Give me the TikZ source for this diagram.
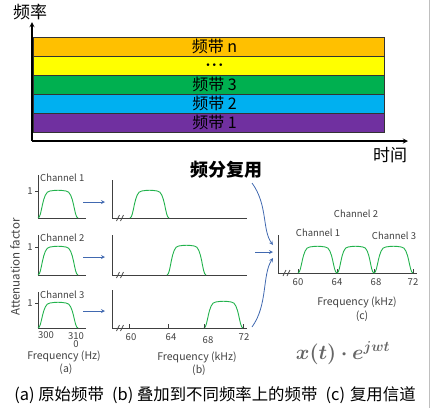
\documentclass[tikz,border=0pt]{standalone}
\usepackage{fontspec}
\setmainfont{Noto Sans CJK SC}
\usepackage{amsmath, bm, xcolor}
\usetikzlibrary{arrows.meta}
\tikzset{>=stealth}

\definecolor{bandn}{HTML}{FFC000}
\definecolor{banddots}{HTML}{FFFF00}
\definecolor{bandthree}{HTML}{00B050}
\definecolor{bandtwo}{HTML}{00B0F0}
\definecolor{bandone}{HTML}{7030A0}
\definecolor{curvegreen}{HTML}{22B24C}
\definecolor{muxblue}{HTML}{4169B0}

% one channel spectrum: x0, x1, base, top
\newcommand{\bump}[4]{%
\pgfmathsetmacro{\bumpw}{#2-#1}
\draw[chan] (#1,#3) .. controls ({#1+0.1*\bumpw},#3) and ({#1+0.1*\bumpw},#4) .. ({#1+0.3*\bumpw},#4)
  .. controls ({#1+0.45*\bumpw},{#4-1}) and ({#1+0.55*\bumpw},{#4-1}) .. ({#1+0.7*\bumpw},#4)
  .. controls ({#1+0.9*\bumpw},#4) and ({#1+0.9*\bumpw},#3) .. (#2,#3);}

\tikzset{
band/.style={draw=black!80, minimum width=351pt, minimum height=19pt, inner sep=0pt},
chan/.style={draw=curvegreen, line width=0.9pt},
ax/.style={draw=black!75, line width=0.8pt},
lbl/.style={font=\fontsize{9.5}{10}\selectfont, text=black!75, inner sep=0pt},
big/.style={font=\fontsize{17}{17}\selectfont, inner sep=0pt},
mux/.style={->, draw=muxblue, line width=0.8pt},
brk/.style={draw=black!70, line width=0.7pt}
}

\begin{document}
\begin{tikzpicture}[x=1pt, y=-1pt]
\useasboundingbox (0,0) rectangle (431,408);
\draw[black!25] (429,0) -- (429,408);

% time / frequency bands
\foreach \yc/\col/\txt/\nm in {46.5/bandn/频带 n/bn, 65.5/banddots/$\bm{\cdot\!\cdot\!\cdot}$/bd, 84.5/bandthree/频带 3/bthree, 103.5/bandtwo/频带 2/btwo, 122.5/bandone/频带 1/bone}
\node[band, fill=\col, label={[inner sep=0pt, font=\fontsize{16}{16}\selectfont, xshift=6pt]center:\txt}] (\nm) at (208.5,\yc) {};
\draw[->, line width=1.3pt] (32,141) -- (32,22);
\draw[->, line width=1.3pt] (32,141) -- (408,141);
\node[big] (freq) at (30,12) {频率};
\node[big] (time) at (390,155) {时间};
\node[big, font=\fontsize{18}{18}\bfseries] (fdm) at (226,170) {频分复用};

% (a) original bands
\node[lbl, font=\fontsize{11.5}{12}\selectfont, rotate=90] (atten) at (15,267) {Attenuation factor};
\foreach \yb/\yt/\yone/\n in {218/175/191/1, 275/235/247/2, 328/292/303/3} {
\draw[ax] (38,\yt) -- (38,\yb) -- (86,\yb);
\draw[ax] (35,\yone) -- (38,\yone);
\node[lbl] (one\n) at (30,\yone) {1};
\node[lbl, anchor=west] (cha\n) at (40,\yt+3) {Channel \n};
\bump{38}{78}{\yb}{\yone}
}
\node[lbl] (hza) at (46,335) {300};
\node[lbl, align=center] (hzb) at (76,340) {310\\[-2pt]0};
\node[lbl, font=\fontsize{10.5}{11}\selectfont] (hzlab) at (64,356) {Frequency (Hz)};
\node[lbl, font=\fontsize{10.5}{11}\selectfont] (capa) at (66,369) {(a)};

% shifting arrows
\foreach \y/\n in {202/1, 257/2, 311/3} {
\coordinate (sa\n) at (83,\y);
\coordinate (sb\n) at (105,\y);
\draw[mux] (sa\n) -- (sb\n);
}

% (b) shifted bands
\foreach \yb/\yt/\yone/\xa in {218/180/191/130, 275/235/246/167, 328/290/302/204} {
\draw[ax] (112,\yt) -- (112,\yb) -- (247,\yb);
\draw[brk] (116.5,\yb+3) -- (119.5,\yb-3);
\draw[brk] (120.5,\yb+3) -- (123.5,\yb-3);
\bump{\xa}{\xa+39}{\yb}{\yone}
}
\foreach \x in {129,168,204,243}
\draw[ax] (\x,328) -- (\x,324);
\node[lbl] (kb60) at (131,337) {60};
\node[lbl] (kb64) at (171,337) {64};
\node[lbl] (kb68) at (208,340) {68};
\node[lbl] (kb72) at (244,337) {72};
\node[lbl, font=\fontsize{10.5}{11}\selectfont] (khzb) at (197,357) {Frequency (kHz)};
\node[lbl, font=\fontsize{10.5}{11}\selectfont] (capb) at (199,370) {(b)};

% (c) multiplexed channel
\draw[ax] (278,235) -- (278,273) -- (417,273);
\draw[brk] (283,276) -- (286,270);
\draw[brk] (287,276) -- (290,270);
\foreach \x in {298,337,374,413}
\draw[ax] (\x,273) -- (\x,269);
\bump{298}{337}{273}{247}
\bump{337}{374}{273}{247}
\bump{374}{413}{273}{247}
\node[lbl] (kc60) at (298,282) {60};
\node[lbl] (kc64) at (337,282) {64};
\node[lbl] (kc68) at (376,282) {68};
\node[lbl] (kc72) at (413,282) {72};
\node[lbl] (chc1) at (318,233) {Channel 1};
\node[lbl] (chc2) at (356,214) {Channel 2};
\node[lbl] (chc3) at (394,236) {Channel 3};
\node[lbl, font=\fontsize{10.5}{11}\selectfont] (khzc) at (357,302) {Frequency (kHz)};
\node[lbl, font=\fontsize{10.5}{11}\selectfont] (capc) at (362,316) {(c)};

% into the mux
\coordinate (ma) at (252,183);
\coordinate (mb) at (255,252);
\coordinate (mc) at (252,327);
\coordinate (ta) at (273,245);
\coordinate (tb) at (273,252);
\coordinate (tc) at (273,258);
\draw[mux] (ma) .. controls (268,205) and (262,230) .. (ta);
\draw[mux] (mb) -- (tb);
\draw[mux] (mc) .. controls (268,305) and (262,275) .. (tc);

\node[text=black!60, font=\fontsize{20}{20}\selectfont, inner sep=0pt] (mixf) at (343,353) {$\boldsymbol{x(t)\cdot e^{jwt}}$};

% caption
\node[font=\fontsize{16.4}{16.4}\selectfont, inner sep=0pt] (cap) at (215,395) {(a) 原始频带\enspace(b) 叠加到不同频率上的频带\enspace(c)\hspace{5pt}复用信道};
\node[lbl, text=black!40, font=\fontsize{7}{7}\selectfont] (pg) at (355,398) {9};
\end{tikzpicture}
\end{document}
